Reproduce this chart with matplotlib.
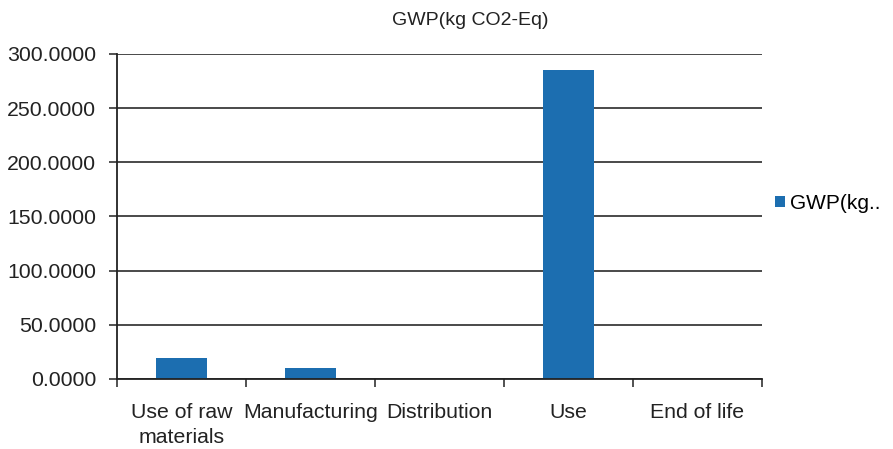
import numpy as np
import matplotlib
matplotlib.use("Agg")
import matplotlib.pyplot as plt

plt.rcParams['font.family'] = ['Liberation Sans', 'DejaVu Sans']

# GWP por fase do ciclo de vida
fases = ["Use of raw\nmaterials", "Manufacturing", "Distribution", "Use", "End of life"]
gwp = [19.5, 10.2, 0.3, 285.0, 0.2]
yticks = [0, 50, 100, 150, 200, 250, 300]

cor = "#1c6eb0"
fs = 15.3
texto = "#222222"

fig = plt.figure(figsize=(8.93, 4.49), dpi=100)
ax = fig.add_axes([0.131, 0.156, 0.722, 0.724])

x = np.arange(len(fases))
ax.bar(x, gwp, width=0.4, color=cor, label="GWP(kg..", zorder=3)

ax.set_ylim(0, 300)
ax.set_xlim(-0.5, len(fases) - 0.5)
ax.set_yticks(yticks)
ax.set_yticklabels([f"{v:.4f}" for v in yticks], fontsize=fs, color=texto)
ax.yaxis.grid(True, color="#2a2a2a", linewidth=1.2, zorder=0)

# marcas entre categorias, rótulos no centro
ax.set_xticks(np.arange(len(fases) + 1) - 0.5)
ax.set_xticklabels([])
ax.set_xticks(x, minor=True)
ax.set_xticklabels(fases, minor=True, fontsize=fs, color=texto, linespacing=1.4,
                   va="top")
ax.tick_params(axis="x", which="major", length=6, width=1.2, color="#333333", direction="out")
ax.tick_params(axis="x", which="minor", length=0, pad=17)
ax.tick_params(axis="y", length=6, width=1.2, color="#333333", pad=9)

for s in ["top", "right"]:
    ax.spines[s].set_visible(False)
for s in ["left", "bottom"]:
    ax.spines[s].set_color(texto)
    ax.spines[s].set_linewidth(1.3)
    ax.spines[s].set_zorder(4)

fig.text(0.527, 0.955, "GWP(kg CO2-Eq)", fontsize=14, color=texto, ha="center", va="center")

ax.legend(loc="center left", bbox_to_anchor=(1.02, 0.54), frameon=False, fontsize=15,
          handlelength=0.5, handleheight=0.5, handletextpad=0.25, borderaxespad=0, borderpad=0)

fig.savefig("out.png", dpi=100)
